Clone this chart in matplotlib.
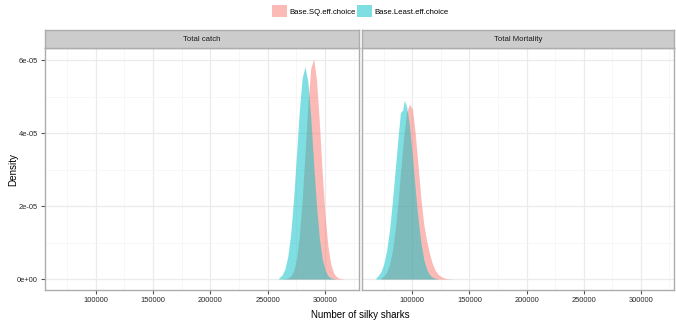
import matplotlib.pyplot as plt
from matplotlib.patches import Patch

plt.rcParams['font.family'] = ['Liberation Sans', 'DejaVu Sans']

# density estimates read per facet (x = number of silky sharks)
catch_sq_x = [262500, 265000, 267500, 270000, 272500, 275000, 277500, 280000,
              282500, 285000, 287500, 290000, 292500, 295000, 297500, 300000,
              302500, 305000, 307500, 310000, 312500, 315000, 316700]
catch_sq_y = [0.002, 0.008, 0.026, 0.08, 0.22, 0.54, 1.16, 2.15, 3.45, 4.80,
              5.78, 6.03, 5.46, 4.28, 2.90, 1.72, 0.89, 0.40, 0.16, 0.06,
              0.02, 0.006, 0.0]
catch_least_x = [259600, 260000, 262500, 265000, 267500, 270000, 272500, 275000,
                 277500, 280000, 282500, 285000, 287500, 290000, 292500, 295000,
                 297500, 300000, 302500, 305000, 307500, 310000]
catch_least_y = [0.03, 0.04, 0.11, 0.28, 0.62, 1.24, 2.18, 3.38, 4.60, 5.51,
                 5.82, 5.40, 4.42, 3.18, 2.01, 1.12, 0.55, 0.24, 0.09, 0.03,
                 0.009, 0.0]

mort_sq_x = [72500, 75000, 77500, 80000, 82500, 85000, 87500, 90000, 92500,
             95000, 97500, 100000, 102500, 105000, 107500, 110000, 112500,
             115000, 117500, 120000, 122500, 125000, 127500, 130000, 132500,
             135000]
mort_sq_y = [0.03, 0.08, 0.19, 0.40, 0.77, 1.35, 2.14, 3.05, 3.93, 4.57, 4.79,
             4.65, 4.00, 3.10, 2.20, 1.50, 1.05, 0.70, 0.42, 0.24, 0.13, 0.07,
             0.035, 0.015, 0.006, 0.0]
mort_least_x = [68200, 70000, 72500, 75000, 77500, 80000, 82500, 85000, 87500,
                89500, 90500, 91500, 93000, 95000, 97500, 100000, 102500, 105000,
                107500, 110000, 112500, 115000, 117500, 120000, 122500]
mort_least_y = [0.04, 0.09, 0.20, 0.42, 0.79, 1.35, 2.12, 3.01, 3.89, 4.55,
                4.60, 4.62, 4.90, 4.72, 4.20, 3.37, 2.46, 1.64, 0.99, 0.54,
                0.27, 0.12, 0.05, 0.02, 0.0]

facets = ['Total catch', 'Total Mortality']
series = ['Base.SQ.eff.choice', 'Base.Least.eff.choice']
colors = ['#F8766D', '#00BFC4']
x_ticks = [100000, 150000, 200000, 250000, 300000]
y_ticks = [0, 2e-05, 4e-05, 6e-05]
y_ticklabels = ['0e+00', '2e-05', '4e-05', '6e-05']

panel_data = [
    [(catch_sq_x, catch_sq_y), (catch_least_x, catch_least_y)],
    [(mort_sq_x, mort_sq_y), (mort_least_x, mort_least_y)],
]

W, H = 676, 327
fig = plt.figure(figsize=(W / 100, H / 100), dpi=100)

panel_left = [45, 362]
panel_width = [313.5, 312]
top, bottom = 48, 290
strip_h = 18

grid_col = '#EBEBEB'
border_col = '#ADADAD'
text_col = '#262626'

for i, name in enumerate(facets):
    l = panel_left[i] / W
    w = panel_width[i] / W
    ax = fig.add_axes([l, (H - bottom) / H, w, (bottom - top) / H])
    for (xs, ys), c in zip(panel_data[i], colors):
        ax.fill_between(xs, [v * 1e-5 for v in ys], 0, color=c, alpha=0.5,
                        linewidth=0)
    ax.set_xlim(55900, 329100)
    ax.set_ylim(-0.30e-05, 6.33e-05)
    ax.set_xticks(x_ticks)
    ax.set_xticklabels([str(t) for t in x_ticks])
    ax.set_xticks([75000, 125000, 175000, 225000, 275000, 325000], minor=True)
    ax.set_yticks(y_ticks)
    ax.set_yticks([1e-05, 3e-05, 5e-05], minor=True)
    ax.grid(True, which='major', color=grid_col, linewidth=0.9)
    ax.grid(True, which='minor', color='#F4F4F4', linewidth=0.5)
    ax.set_axisbelow(True)
    ax.tick_params(axis='both', which='major', length=3, width=0.8,
                   color='#555555', labelsize=5.4, labelcolor=text_col, pad=2)
    ax.tick_params(axis='both', which='minor', length=0)
    if i == 0:
        ax.set_yticklabels(y_ticklabels)
    else:
        ax.tick_params(axis='y', which='both', left=False, labelleft=False)
    for s in ax.spines.values():
        s.set_color(border_col)
        s.set_linewidth(1.0)

    sax = fig.add_axes([l, (H - top) / H, w, strip_h / H])
    sax.set_facecolor('#CCCCCC')
    sax.set_xticks([])
    sax.set_yticks([])
    for s in sax.spines.values():
        s.set_color(border_col)
        s.set_linewidth(1.0)
    sax.text(0.5, 0.48, name, ha='center', va='center', fontsize=5.6,
             color='#1a1a1a', transform=sax.transAxes)

fig.text(13 / W, 1 - 169 / H, 'Density', ha='center', va='center',
         rotation=90, fontsize=7.1, color='black')
fig.text(360 / W, 1 - 315 / H, 'Number of silky sharks', ha='center',
         va='center', fontsize=7, color='black')

handles = [Patch(facecolor=c, alpha=0.5, edgecolor='none') for c in colors]
fig.legend(handles, series, loc='upper center', bbox_to_anchor=(0.533, 1.005),
           ncol=2, frameon=False, fontsize=5.6, handlelength=1.9,
           handleheight=1.9, handletextpad=0.3, columnspacing=0.2)

fig.savefig('out.png', dpi=100)
